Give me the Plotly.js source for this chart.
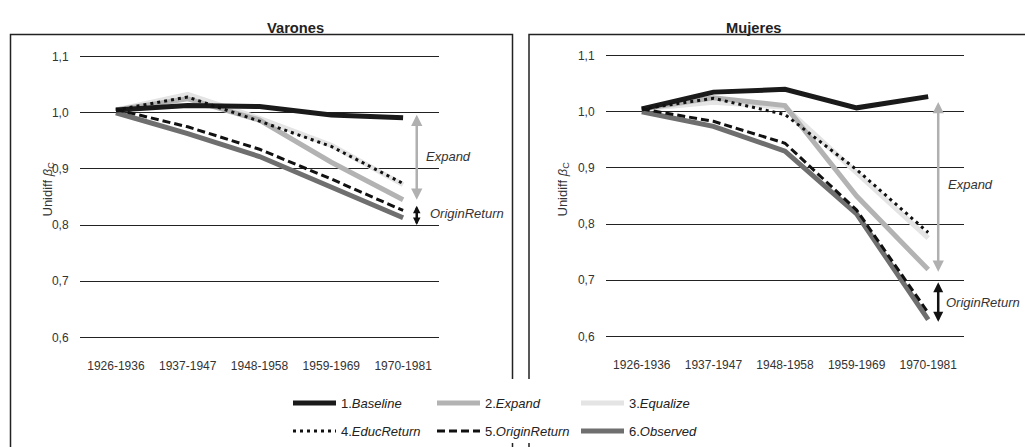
<!DOCTYPE html>
<html><head><meta charset="utf-8">
<script src="https://cdn.plot.ly/plotly-3.0.1.min.js"></script>
<style>html,body{margin:0;padding:0;background:#fff}#chart{width:1025px;height:447px}</style>
</head><body><div id="chart"></div>
<script>
const categories = ['1926-1936','1937-1947','1948-1958','1959-1969','1970-1981'];
const seriesNames = ['1.<i>Baseline</i>','2.<i>Expand</i>','3.<i>Equalize</i>','4.<i>EducReturn</i>','5.<i>OriginReturn</i>','6.<i>Observed</i>'];
// Varones
const baselineV = [1.005, 1.013, 1.011, 0.996, 0.991];
const expandV   = [1.005, 1.025, 0.987, 0.912, 0.845];
const equalizeV = [1.005, 1.033, 0.990, 0.942, 0.872];
const educV     = [1.005, 1.028, 0.985, 0.940, 0.874];
const originV   = [1.006, 0.975, 0.935, 0.882, 0.826];
const observedV = [1.000, 0.963, 0.922, 0.867, 0.813];
// Mujeres
const baselineM = [1.005, 1.035, 1.040, 1.007, 1.027];
const expandM   = [1.005, 1.025, 1.011, 0.850, 0.719];
const equalizeM = [1.005, 1.017, 1.008, 0.890, 0.775];
const educM     = [1.005, 1.024, 0.995, 0.897, 0.785];
const originM   = [1.005, 0.983, 0.944, 0.825, 0.642];
const observedM = [1.000, 0.974, 0.930, 0.818, 0.630];
const yTicks = [0.6, 0.7, 0.8, 0.9, 1.0, 1.1];

const FONT = '"Liberation Sans", Arial, Helvetica, sans-serif';
const styles = [
  {color:'#1a1a1a', width:5, dash:'solid'},
  {color:'#b3b3b3', width:5, dash:'solid'},
  {color:'#e4e4e4', width:5, dash:'solid'},
  {color:'#111111', width:3, dash:'3px,4px'},
  {color:'#111111', width:3, dash:'8px,4px'},
  {color:'#6f6f6f', width:5, dash:'solid'}
];
const drawOrder = [2,1,5,0,3,4];
const dataV = [baselineV, expandV, equalizeV, educV, originV, observedV];
const dataM = [baselineM, expandM, equalizeM, educM, originM, observedM];
const traces = [];
drawOrder.forEach(i => {
  traces.push({x:categories, y:dataV[i], type:'scatter', mode:'lines', name:seriesNames[i],
    line:styles[i], xaxis:'x', yaxis:'y', legend: i<3 ? 'legend' : 'legend2', legendrank:i+1,
    showlegend:true, hoverinfo:'skip'});
});
drawOrder.forEach(i => {
  traces.push({x:categories, y:dataM[i], type:'scatter', mode:'lines', name:seriesNames[i],
    line:styles[i], xaxis:'x2', yaxis:'y2', showlegend:false, hoverinfo:'skip'});
});

const W = 1025, H = 447;
const px = v => v / W, py = v => 1 - v / H;
const axisCommon = {showline:false, zeroline:false, fixedrange:true};
const xCommon = Object.assign({}, axisCommon, {type:'category', range:[-0.5,4.5], showgrid:false,
  ticks:'outside', ticklen:16, tickcolor:'rgba(0,0,0,0)', tickfont:{family:FONT, size:12, color:'#333'}});
const yCommon = Object.assign({}, axisCommon, {range:[0.598,1.102], tickvals:yTicks, tickformat:'.1f',
  showgrid:true, gridcolor:'#222', gridwidth:1, ticks:'outside', ticklen:8, tickcolor:'rgba(0,0,0,0)',
  tickfont:{family:FONT, size:12, color:'#333'}});
const legendCommon = {orientation:'h', xanchor:'left', yanchor:'top', entrywidth:86, entrywidthmode:'pixels',
  font:{family:FONT, size:13, color:'#222'}, bgcolor:'rgba(0,0,0,0)', tracegroupgap:0, itemwidth:43};

const layout = {
  width:W, height:H, margin:{l:0,r:0,t:0,b:0}, paper_bgcolor:'#fff', plot_bgcolor:'rgba(0,0,0,0)',
  separators:', ', font:{family:FONT, color:'#222'},
  xaxis:Object.assign({}, xCommon, {domain:[px(80), px(439)], anchor:'y'}),
  yaxis:Object.assign({}, yCommon, {domain:[py(338.5), py(55.5)], anchor:'x'}),
  xaxis2:Object.assign({}, xCommon, {domain:[px(606), px(964)], anchor:'y2'}),
  yaxis2:Object.assign({}, yCommon, {domain:[py(337.5), py(54.5)], anchor:'x2'}),
  legend:Object.assign({}, legendCommon, {x:px(288), y:py(388)}),
  legend2:Object.assign({}, legendCommon, {x:px(288), y:py(416)}),
  shapes:[
    {type:'rect', xref:'paper', yref:'paper', x0:px(10.5), x1:px(512.5), y0:py(460), y1:py(34.5), line:{color:'#222', width:1.5}, layer:'below'},
    {type:'rect', xref:'paper', yref:'paper', x0:px(529), x1:px(1040), y0:py(460), y1:py(34.5), line:{color:'#222', width:1.5}, layer:'below'},
    {type:'rect', xref:'paper', yref:'paper', x0:px(14), x1:px(1030), y0:py(443), y1:py(379), line:{width:0}, fillcolor:'#fff', layer:'below'}
  ],
  annotations:[
    {text:'<b>Varones</b>', xref:'paper', yref:'paper', x:px(264.5), y:py(18), showarrow:false, font:{family:FONT, size:14.7, color:'#222'}},
    {text:'<b>Mujeres</b>', xref:'paper', yref:'paper', x:px(784), y:py(18), showarrow:false, font:{family:FONT, size:14.7, color:'#222'}},
    {text:'Unidiff <i>β</i><sub>C</sub>', xref:'paper', yref:'paper', x:px(37.5), y:py(189.5), textangle:-90, showarrow:false, font:{family:FONT, size:13, color:'#333'}},
    {text:'Unidiff <i>β</i><sub>C</sub>', xref:'paper', yref:'paper', x:px(563), y:py(189.5), textangle:-90, showarrow:false, font:{family:FONT, size:13, color:'#333'}},
    // left arrows
    {xref:'x', yref:'y', axref:'x', ayref:'y', x:4.19, y:0.845, ax:4.19, ay:0.999, text:'', showarrow:true, arrowside:'end+start', arrowhead:2, arrowsize:0.9, arrowwidth:2.5, arrowcolor:'#b0b0b0'},
    {xref:'x', yref:'y', axref:'x', ayref:'y', x:4.19, y:0.800, ax:4.19, ay:0.837, text:'', showarrow:true, arrowside:'end+start', arrowhead:2, arrowsize:0.6, arrowwidth:2.5, arrowcolor:'#111'},
    {xref:'x', yref:'y', x:4.285, y:0.922, xanchor:'left', text:'<i>Expand</i>', showarrow:false, font:{family:FONT, size:13, color:'#333'}},
    {xref:'x', yref:'y', x:4.34, y:0.82, xanchor:'left', text:'<i>OriginReturn</i>', showarrow:false, font:{family:FONT, size:13, color:'#333'}},
    // right arrows
    {xref:'x2', yref:'y2', axref:'x2', ayref:'y2', x:4.14, y:0.715, ax:4.14, ay:1.02, text:'', showarrow:true, arrowside:'end+start', arrowhead:2, arrowsize:0.9, arrowwidth:2.5, arrowcolor:'#b0b0b0'},
    {xref:'x2', yref:'y2', axref:'x2', ayref:'y2', x:4.14, y:0.626, ax:4.14, ay:0.699, text:'', showarrow:true, arrowside:'end+start', arrowhead:2, arrowsize:0.8, arrowwidth:2.5, arrowcolor:'#111'},
    {xref:'x2', yref:'y2', x:4.25, y:0.87, xanchor:'left', text:'<i>Expand</i>', showarrow:false, font:{family:FONT, size:13, color:'#333'}},
    {xref:'x2', yref:'y2', x:4.22, y:0.661, xanchor:'left', text:'<i>OriginReturn</i>', showarrow:false, font:{family:FONT, size:13, color:'#333'}}
  ]
};
Plotly.newPlot('chart', traces, layout, {staticPlot:true, displayModeBar:false});
</script></body></html>
